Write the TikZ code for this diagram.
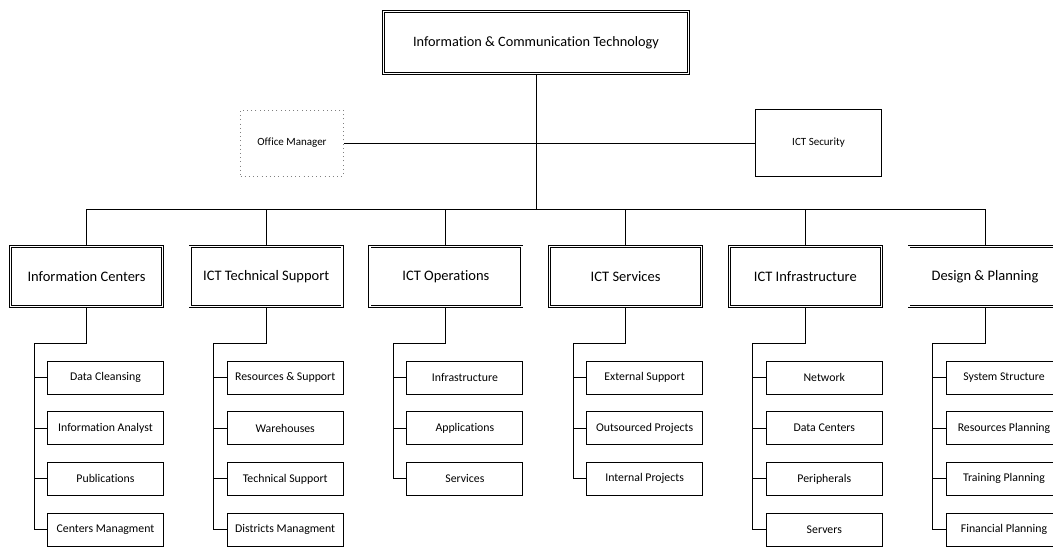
\documentclass[tikz,border=0pt]{standalone}
\usepackage{fontspec}
\setmainfont[Ligatures=NoCommon]{Carlito}
\usetikzlibrary{calc}
\begin{document}
\begin{tikzpicture}[x=1pt,y=-1pt,
  line/.style={draw=black, line width=0.9pt},
  topbox/.style={draw=black, double, double distance=1.5pt, line width=0.7pt, minimum width=305pt, minimum height=62pt, inner sep=0pt, font=\fontsize{14.3}{17}\selectfont},
  dbox/.style={draw=black, double, double distance=1.5pt, line width=0.7pt, minimum width=152pt, minimum height=60pt, inner sep=0pt, font=\fontsize{14.5}{17}\selectfont},
  cbox/.style={draw=black, line width=0.9pt, minimum width=116pt, minimum height=33pt, inner sep=0pt, font=\fontsize{11.8}{14}\selectfont},
  sidebox/.style={line width=0.9pt, minimum height=66pt, inner sep=0pt, font=\fontsize{11}{13}\selectfont}]
\useasboundingbox (0,0) rectangle (1053,547);

% top
\node[topbox] (top) at (536,42.5) {Information \& Communication Technology};

% side boxes
\node[sidebox, draw=gray, dash pattern=on 1pt off 3.2pt, minimum width=103pt] (om) at (292,143) {Office Manager};
\node[sidebox, draw=black, minimum width=126pt, minimum height=67pt] (sec) at (818.5,143) {ICT Security};
\coordinate (bus) at (536,209.5);

% level 2
\foreach \i/\x/\t in {1/86.5/Information Centers, 2/266.2/ICT Technical Support, 3/445.9/ICT Operations, 4/625.6/ICT Services, 5/805.3/ICT Infrastructure, 6/985/Design \& Planning}
  \node[dbox] (c\i) at (\x,276.5) {\t};

% children
\foreach \i/\j/\t in {
  1/1/Data Cleansing, 1/2/Information Analyst, 1/3/Publications, 1/4/Centers Managment,
  2/1/Resources \& Support, 2/2/Warehouses, 2/3/Technical Support, 2/4/Districts Managment,
  3/1/Infrastructure, 3/2/Applications, 3/3/Services,
  4/1/External Support, 4/2/Outsourced Projects, 4/3/Internal Projects,
  5/1/Network, 5/2/Data Centers, 5/3/Peripherals, 5/4/Servers,
  6/1/System Structure, 6/2/Resources Planning, 6/3/Training Planning, 6/4/Financial Planning}
  \node[cbox] (c\i-\j) at ($(c\i.center)+(19,{101+50.7*(\j-1)})$) {\t};

% connectors
\draw[line] (top.south) -- (bus);
\draw[line] (om.east) -- (sec.west);
\draw[line] (c1.north) |- (bus) -| (c6.north);
\foreach \i in {2,3,4,5}
  \draw[line] (c\i.north) -- (c\i.north |- bus);

\foreach \i/\n in {1/4, 2/4, 3/3, 4/3, 5/4, 6/4}{
  \draw[line] (c\i.south) -- ++(0,37) -| ([xshift=-13pt]c\i-\n.west) -- (c\i-\n.west);
}
\foreach \i/\j in {1/1,1/2,1/3, 2/1,2/2,2/3, 3/1,3/2, 4/1,4/2, 5/1,5/2,5/3, 6/1,6/2,6/3}
  \draw[line] ([xshift=-13pt]c\i-\j.west) -- (c\i-\j.west);
\end{tikzpicture}
\end{document}
